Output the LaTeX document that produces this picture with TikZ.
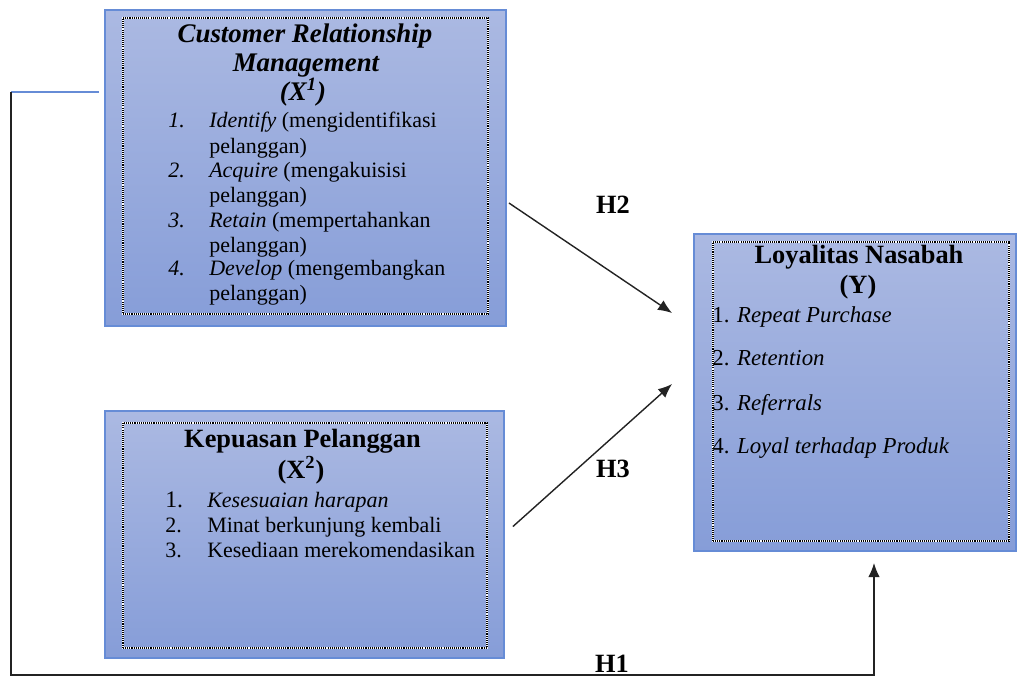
\documentclass[tikz,border=0pt]{standalone}
\usepackage{fontspec}
\setmainfont{Liberation Serif}
\usetikzlibrary{arrows.meta,calc}

\definecolor{boxtop}{RGB}{171,185,226}
\definecolor{boxbottom}{RGB}{134,157,216}
\definecolor{boxline}{RGB}{102,140,214}
\definecolor{linkgray}{RGB}{35,35,35}

\tikzset{
  varbox/.style={rectangle, draw=boxline, line width=1.1pt, top color=boxtop, bottom color=boxbottom, inner sep=0pt},
  dotframe/.style={rectangle, draw=black, line width=0.75pt, dash pattern=on 0.6pt off 0.6pt,
    preaction={draw=white, solid, line width=0.75pt}, inner sep=0pt},
  boxtitle/.style={anchor=base, inner sep=0pt, font=\fontsize{15}{18}\selectfont\bfseries},
  item/.style={anchor=base west, inner sep=0pt, font=\fontsize{12.5}{14}\selectfont},
  hlabel/.style={anchor=base, inner sep=0pt, font=\fontsize{15}{18}\selectfont\bfseries},
  link/.style={draw=linkgray, line width=0.8pt, -{Latex[length=8pt,width=6.5pt]}}
}

\begin{document}
\begin{tikzpicture}[x=0.02cm, y=-0.02cm]
    \useasboundingbox (0,0) rectangle (1017,677);

    % Variable boxes
    \node[varbox, minimum width=8.02cm, minimum height=6.32cm] (crm) at (305.5,168) {};
    \node[dotframe, minimum width=7.3cm, minimum height=5.92cm] (crmframe) at (305.5,166) {};
    \node[varbox, minimum width=7.98cm, minimum height=4.94cm] (kp) at (304.5,534.5) {};
    \node[dotframe, minimum width=7.28cm, minimum height=4.5cm] (kpframe) at (305,535.5) {};
    \node[varbox, minimum width=6.44cm, minimum height=6.34cm] (ly) at (855,392.5) {};
    \node[dotframe, minimum width=5.92cm, minimum height=5.98cm] (lyframe) at (861,391.5) {};

    % Customer Relationship Management
    \node[boxtitle, font=\fontsize{15.3}{18}\selectfont\bfseries\itshape] (crmt1) at (305,42) {Customer Relationship};
    \node[boxtitle, font=\fontsize{15.3}{18}\selectfont\bfseries\itshape] (crmt2) at (306,71) {Management};
    \node[boxtitle, font=\fontsize{15.3}{18}\selectfont\bfseries\itshape] (crmt3) at (303,100) {(X\textsuperscript{1})};
    \node[item] (crm1) at (168,127) {\makebox[23.3pt][l]{\itshape 1.}\textit{Identify} (mengidentifikasi};
    \node[item] (crm1b) at (209,153) {pelanggan)};
    \node[item] (crm2) at (168,177) {\makebox[23.3pt][l]{\itshape 2.}\textit{Acquire} (mengakuisisi};
    \node[item] (crm2b) at (209,202) {pelanggan)};
    \node[item] (crm3) at (168,227) {\makebox[23.3pt][l]{\itshape 3.}\textit{Retain} (mempertahankan};
    \node[item] (crm3b) at (209,252) {pelanggan)};
    \node[item] (crm4) at (168,275) {\makebox[23.3pt][l]{\itshape 4.}\textit{Develop} (mengembangkan};
    \node[item] (crm4b) at (209,300) {pelanggan)};

    % Kepuasan Pelanggan
    \node[boxtitle] (kpt1) at (302.5,447) {Kepuasan Pelanggan};
    \node[boxtitle] (kpt2) at (301,478) {(X\textsuperscript{2})};
    \node[item] (kp1) at (165,507) {\makebox[23.9pt][l]{\fontsize{13.5}{14}\selectfont 1.}\textit{Kesesuaian harapan}};
    \node[item] (kp2) at (165,532) {\makebox[23.9pt][l]{2.}Minat berkunjung kembali};
    \node[item] (kp3) at (165,557) {\makebox[23.9pt][l]{3.}Kesediaan merekomendasikan};

    % Loyalitas Nasabah
    \node[boxtitle] (lyt1) at (859,263) {Loyalitas Nasabah};
    \node[boxtitle] (lyt2) at (858,293) {(Y)};
    \node[item, font=\fontsize{13}{14}\selectfont] (ly1) at (712,322) {1. \textit{Repeat Purchase}};
    \node[item, font=\fontsize{13}{14}\selectfont] (ly2) at (712,365) {2. \textit{Retention}};
    \node[item, font=\fontsize{13}{14}\selectfont] (ly3) at (712,410) {3. \textit{Referrals}};
    \node[item, font=\fontsize{13}{14}\selectfont] (ly4) at (712,453) {4. \textit{Loyal terhadap Produk}};

    % Hypotheses
    \coordinate (h2start) at ($(crm.east)+(2,35)$);
    \coordinate (h2end) at ($(ly.west)+(-21,-79.5)$);
    \coordinate (h3start) at ($(kp.east)+(8,-8)$);
    \coordinate (h3end) at ($(ly.west)+(-21,-8.5)$);
    \coordinate (h1start) at ($(crm.west)+(-5,-76)$);
    \coordinate (h1turn) at (11,92);
    \coordinate (h1end) at ($(ly.south)+(19,11)$);

    \draw[link] (h2start) -- (h2end);
    \draw[link] (h3start) -- (h3end);
    \draw[boxline, line width=0.8pt] (h1start) -- (h1turn);
    \draw[link] (h1turn) -- ++(0,583) -| (h1end);

    \node[hlabel] (h2) at (613,213) {H2};
    \node[hlabel] (h3) at (613,477) {H3};
    \node[hlabel] (h1) at (612,672) {H1};
\end{tikzpicture}
\end{document}
